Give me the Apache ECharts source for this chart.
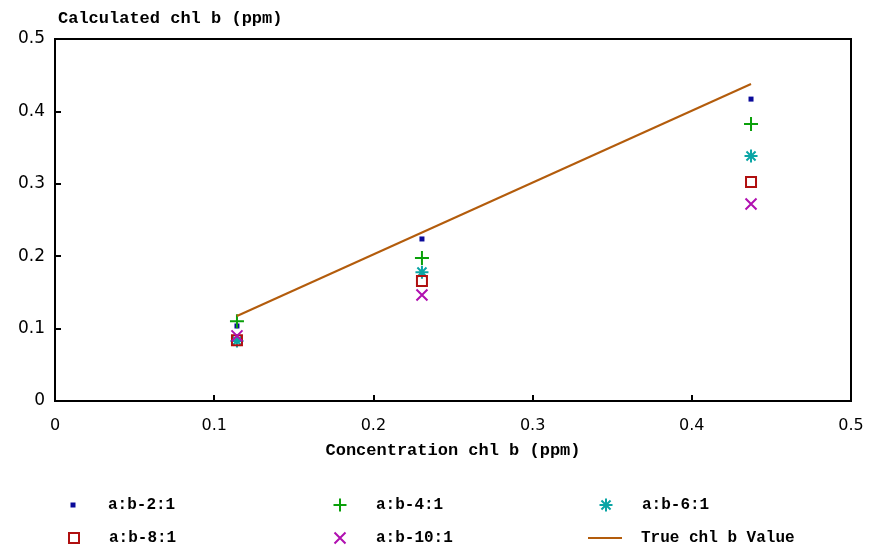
<!DOCTYPE html>
<html><head><meta charset="utf-8">
<script src="https://cdn.jsdelivr.net/npm/echarts@6/dist/echarts.min.js"></script>
<style>html,body{margin:0;padding:0;background:#fff}#c{width:870px;height:552px}</style>
</head><body><div id="c"></div>
<script>
const xConc = [0.1143, 0.2305, 0.4372];
const ab2 = [0.1036, 0.2238, 0.417];
const ab4 = [0.110, 0.1975, 0.3826];
const ab6 = [0.083, 0.178, 0.3384];
const ab8 = [0.084, 0.1657, 0.3025];
const ab10 = [0.090, 0.1464, 0.272];
const trueX = [0.1143, 0.4372];
const trueY = [0.1174, 0.4378];
const names = ['a:b-2:1', 'a:b-4:1', 'a:b-6:1', 'a:b-8:1', 'a:b-10:1', 'True chl b Value'];

const pair = (xs, ys) => xs.map((x, i) => [x, ys[i]]);
const monoFont = {fontFamily: 'Liberation Mono', fontWeight: 'bold', fontSize: 17, color: '#000'};
const tickFmt = v => v === 0 ? '0' : v.toFixed(1);

function leg(name, left, top, w, h, pad, extra) {
  return Object.assign({
    data: [name], left: left, top: top, padding: 0, itemWidth: w, itemHeight: h,
    selectedMode: false,
    textStyle: {fontFamily: 'Liberation Mono', fontWeight: 'bold', fontSize: 16, color: '#000', lineHeight: 20, padding: [0, 0, 0, pad]}
  }, extra || {});
}

const chart = echarts.init(document.getElementById('c'), null, {renderer: 'canvas'});
chart.setOption({
  animation: false,
  grid: {left: 55, right: 19, top: 39, bottom: 151, show: true, borderColor: '#000', borderWidth: 2},
  title: {text: 'Calculated chl b (ppm)', left: 53, top: 5, textStyle: monoFont},
  legend: [
    leg(names[0], 70.5, 495, 5, 5, 27.5),
    leg(names[3], 68, 528, 10, 10, 25),
    leg(names[1], 332.5, 495, 13, 13, 24.5),
    leg(names[4], 333.5, 528, 11, 11, 25.5),
    leg(names[2], 598.5, 495, 13, 13, 24.5),
    leg({name: names[5], icon: 'rect'}, 588, 528, 34, 2, 14)
  ],
  xAxis: {
    type: 'value', min: 0, max: 0.5, interval: 0.1,
    name: 'Concentration chl b (ppm)', nameLocation: 'middle', nameGap: 41,
    nameTextStyle: monoFont,
    axisLine: {lineStyle: {color: '#000', width: 2}},
    axisTick: {inside: true, length: 6, lineStyle: {color: '#000', width: 2}},
    axisLabel: {formatter: tickFmt, margin: 17, fontFamily: 'DejaVu Sans', fontSize: 16, color: '#000'},
    splitLine: {show: false}
  },
  yAxis: {
    type: 'value', min: 0, max: 0.5, interval: 0.1,
    axisLine: {lineStyle: {color: '#000', width: 2}},
    axisTick: {inside: true, length: 6, lineStyle: {color: '#000', width: 2}},
    axisLabel: {formatter: tickFmt, margin: 10, fontFamily: 'DejaVu Sans', fontSize: 17, color: '#000'},
    splitLine: {show: false}
  },
  series: [
    {name: names[0], type: 'scatter', data: pair(xConc, ab2), symbol: 'rect', symbolSize: 5, itemStyle: {color: '#0A0A9A', opacity: 1}},
    {name: names[1], type: 'scatter', data: pair(xConc, ab4), symbol: 'path://M0,6 L12,6 M6,0 L6,12', symbolSize: 14, itemStyle: {color: 'rgba(0,0,0,0)', borderColor: '#0AA00A', borderWidth: 2, opacity: 1}},
    {name: names[2], type: 'scatter', data: pair(xConc, ab6), symbol: 'path://M0,6 L12,6 M6,0 L6,12 M1.8,1.8 L10.2,10.2 M1.8,10.2 L10.2,1.8', symbolSize: 13, itemStyle: {color: 'rgba(0,0,0,0)', borderColor: '#0AA5A5', borderWidth: 2, opacity: 1}},
    {name: names[3], type: 'scatter', data: pair(xConc, ab8), symbol: 'rect', symbolSize: 10, itemStyle: {color: 'rgba(255,255,255,0)', borderColor: '#B01010', borderWidth: 2, opacity: 1}},
    {name: names[4], type: 'scatter', data: pair(xConc, ab10), symbol: 'path://M0,0 L10,10 M0,10 L10,0', symbolSize: 11, itemStyle: {color: 'rgba(0,0,0,0)', borderColor: '#B010B0', borderWidth: 2, opacity: 1}},
    {name: names[5], type: 'line', data: pair(trueX, trueY), symbol: 'none', lineStyle: {color: '#B35C0C', width: 2}, itemStyle: {color: '#B35C0C'}}
  ]
});
</script></body></html>
